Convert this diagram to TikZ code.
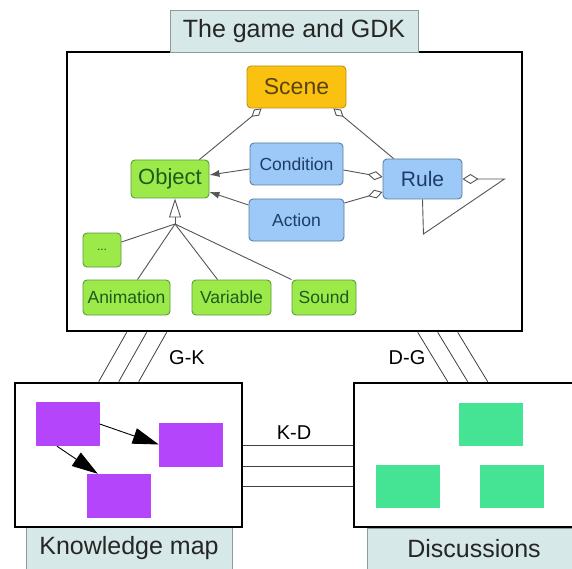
\documentclass[tikz,border=0pt]{standalone}
\usepackage{fontspec}
\setmainfont{Liberation Sans}
\usetikzlibrary{arrows.meta,calc}

\definecolor{tabfill}{HTML}{D6E8E8}
\definecolor{tabline}{HTML}{8C9C9C}
\definecolor{scenefill}{HTML}{FAC110}
\definecolor{sceneline}{HTML}{BF901C}
\definecolor{scenetext}{HTML}{5A4310}
\definecolor{objfill}{HTML}{9BEA4A}
\definecolor{objline}{HTML}{5E9A3A}
\definecolor{objtext}{HTML}{1E5A1E}
\definecolor{rulefill}{HTML}{9CC9F7}
\definecolor{ruleline}{HTML}{5D7E9E}
\definecolor{ruletext}{HTML}{1E3C6A}
\definecolor{mapfill}{HTML}{B445FA}
\definecolor{talkfill}{HTML}{45E494}
\definecolor{umlline}{HTML}{555555}

\newcommand{\fs}[1]{\fontsize{#1}{#1}\selectfont}

\begin{document}
\begin{tikzpicture}[x=1pt,y=-1pt,>=latex,
  bigbox/.style={draw=black,line width=2.6pt,fill=white,inner sep=0pt},
  tab/.style={draw=tabline,line width=0.8pt,fill=tabfill,inner sep=0pt,font=\fs{25},text=black!85},
  umlbox/.style={rounded corners=4pt,line width=0.9pt,inner sep=0pt},
  scenebox/.style={umlbox,draw=sceneline,fill=scenefill,text=scenetext},
  objbox/.style={umlbox,draw=objline,fill=objfill,text=objtext},
  rulebox/.style={umlbox,draw=ruleline,fill=rulefill,text=ruletext},
  assoc/.style={draw=umlline,line width=0.9pt},
  link/.style={draw=black!75,line width=0.8pt},
  linklabel/.style={font=\fs{20},inner sep=0pt},
  mapbox/.style={fill=mapfill,minimum width=64pt,minimum height=44pt,inner sep=0pt},
  talkbox/.style={fill=talkfill,minimum width=64pt,minimum height=43pt,inner sep=0pt}]
\useasboundingbox (0,0) rectangle (572,569);

% Bottom tabs and the three big boxes
\node[tab,minimum width=206pt,minimum height=42pt] (maptab) at (129,548) {Knowledge map};
\node[tab,minimum width=213pt,minimum height=42pt] (talktab) at (474,549) {Discussions};
\node[bigbox,minimum width=455pt,minimum height=279pt] (game) at (294.5,191.5) {};
\node[bigbox,minimum width=227pt,minimum height=144pt] (kmap) at (128.5,455) {};
\node[bigbox,minimum width=226pt,minimum height=144pt] (disc) at (467,455) {};
\node[tab,minimum width=248pt,minimum height=42pt] (gametab) at (294,31) {The game and GDK};

% Game model
\node[scenebox,minimum width=99pt,minimum height=42pt,font=\fs{23}] (scene) at (296.5,87) {Scene};
\node[objbox,minimum width=78pt,minimum height=38pt,font=\fs{22}] (object) at (170,179) {Object};
\node[rulebox,minimum width=93pt,minimum height=42pt,font=\fs{17.5}] (condition) at (296.5,164) {Condition};
\node[rulebox,minimum width=95pt,minimum height=42pt,font=\fs{17.5}] (action) at (296.5,220) {Action};
\node[rulebox,minimum width=79pt,minimum height=40pt,font=\fs{21}] (rule) at (422.5,179) {Rule};
\node[objbox,minimum width=38pt,minimum height=34pt,font=\fs{12}] (dots) at (102,250) {...};
\node[objbox,minimum width=87pt,minimum height=35pt,font=\fs{17.5}] (animation) at (126.5,297.5) {Animation};
\node[objbox,minimum width=79pt,minimum height=35pt,font=\fs{17.5}] (variable) at (231.5,297.5) {Variable};
\node[objbox,minimum width=64pt,minimum height=35pt,font=\fs{17.5}] (sound) at (324,297.5) {Sound};

% Aggregations and navigations
\draw[assoc,{Diamond[open,length=13pt,width=8pt]}-] ([xshift=15pt]scene.south west) -- ([xshift=-10pt]object.north east);
\draw[assoc,{Diamond[open,length=13pt,width=8pt]}-] ([xshift=-13pt]scene.south east) -- ([xshift=11pt]rule.north west);
\draw[assoc,-{Latex[length=10pt,width=7pt]}] ($(condition.west)+(0,5)$) -- ($(object.east)+(0,-4)$);
\draw[assoc,-{Latex[length=10pt,width=7pt]}] ($(action.west)+(0,-15)$) -- ($(object.east)+(0,13)$);
\draw[assoc,-{Diamond[open,length=15pt,width=9pt]}] ($(condition.east)+(0,6)$) -- ($(rule.west)+(0,-2)$);
\draw[assoc,-{Diamond[open,length=15pt,width=9pt]}] ($(action.east)+(0,-17)$) -- ($(rule.west)+(0,13)$);
\draw[assoc,{Diamond[open,length=16pt,width=10pt]}-] (rule.east) -- ++(42,0) -- ++(-81,55) -- (rule.south);

% Generalization
\coordinate (gen) at (175,224);
\draw[assoc,-{Triangle[open,length=19pt,width=12pt]}] (gen) -- ([xshift=5pt]object.south);
\draw[assoc] (gen) -- ($(dots.east)+(0,-8)$);
\draw[assoc] (gen) -- ($(animation.north)+(11,0)$);
\draw[assoc] (gen) -- ($(variable.north)+(-14,0)$);
\draw[assoc] (gen) -- (sound.north west);

% Knowledge map
\node[mapbox] (map1) at (67.5,424) {};
\node[mapbox] (map2) at (191,444.5) {};
\node[mapbox] (map3) at (119,496) {};
\draw[line width=0.9pt,-{Triangle[length=26pt,width=16pt]}] (map1.east) -- (map2.west);
\draw[line width=0.9pt,-{Triangle[length=26pt,width=16pt]}] ($(map1.south)+(-10.5,0)$) -- ($(map3.north west)+(11,0)$);

% Discussions
\node[talkbox] (talk1) at (491,424) {};
\node[talkbox] (talk2) at (408,486) {};
\node[talkbox] (talk3) at (511.5,486) {};

% Links between the parts
\foreach \d in {0,20,40} {
  \draw[link] ([xshift=61pt+\d pt]game.south west) -- ([xshift=85pt+\d pt]kmap.north west);
  \draw[link] ([xshift=352pt+\d pt]game.south west) -- ([xshift=95pt+\d pt]disc.north west);
}
\foreach \dy in {-10,11,31}
  \draw[link] ($(kmap.east)+(0,\dy)$) -- ($(disc.west)+(0,\dy)$);
\node[linklabel] (gk) at (187,358) {G-K};
\node[linklabel] (dg) at (407,358) {D-G};
\node[linklabel] (kd) at (294,433) {K-D};
\end{tikzpicture}
\end{document}
